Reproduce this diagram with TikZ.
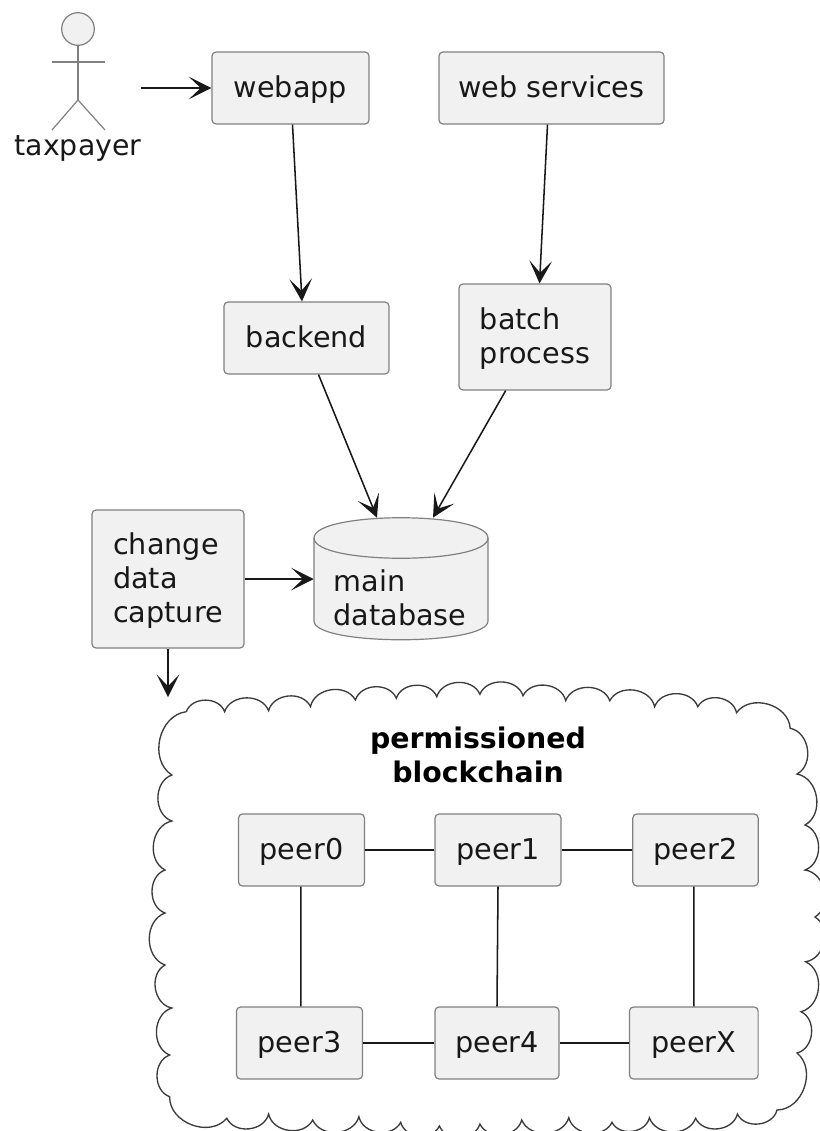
\documentclass[tikz,border=0pt]{standalone}
\usepackage{fontspec}
\setmainfont{DejaVu Sans}
\usetikzlibrary{arrows.meta,shapes.geometric}
\definecolor{boxfill}{HTML}{F1F1F1}
\definecolor{boxline}{HTML}{808080}
\definecolor{ink}{HTML}{181818}
\newcommand{\toppad}{\rule{0pt}{19pt}}
\tikzset{
  x=0.75pt,y=-0.75pt,
  boxnode/.style={draw=boxline,fill=boxfill,line width=0.9pt,rounded corners=3pt,inner sep=0pt,align=left,text=ink,font=\fontsize{21.5}{25.3}\selectfont},
  oneline/.style={boxnode,text height=18.5pt,text depth=4.2pt},
  link/.style={draw=ink,line width=1.15pt},
  arrowlink/.style={link,-{Stealth[length=17pt,width=17pt,inset=9pt]}},
  stick/.style={draw=boxline,line width=0.9pt},
  cloudline/.style={draw=ink!85!white,line width=1pt,fill=white},
  bump/.style={bend left=70,looseness=1.1}
}
\begin{document}
\begin{tikzpicture}
\useasboundingbox (0,0) rectangle (820,1131);
\clip (0,0) rectangle (820,1131);
% actor
\node[circle,draw=boxline,fill=boxfill,line width=0.9pt,minimum size=24.5pt,inner sep=0pt] (head) at (78,29) {};
\coordinate (hip) at (78,100);
\coordinate (armL) at (52,62);
\coordinate (armR) at (105,62);
\coordinate (legL) at (52,130);
\coordinate (legR) at (105,130);
\draw[stick] (head.south) -- (hip);
\draw[stick] (armL) -- (armR);
\draw[stick] (legL) -- (hip) -- (legR);
\node[text=ink,font=\fontsize{21.3}{25}\selectfont,inner sep=0pt] (taxpayer) at (78,148) {taxpayer};
\coordinate (actorout) at (141,88);
% boxes
\node[oneline,minimum width=117.75pt,minimum height=54pt] (webapp) at (290.5,88) {webapp};
\node[oneline,minimum width=168.75pt,minimum height=54pt] (websvc) at (551.5,88) {web services};
\node[oneline,minimum width=123.75pt,minimum height=54pt] (backend) at (306.5,338) {backend};
\node[boxnode,minimum width=114pt,minimum height=79.5pt] (batch) at (535,337) {\toppad batch\\process};
\node[boxnode,minimum width=114pt,minimum height=103.5pt] (cdc) at (168,579) {\toppad change\\data\\capture};
% database
\node[inner sep=0pt,minimum width=130.5pt,minimum height=91.5pt] (db) at (401,579) {};
\coordinate (tl) at (314,538);
\coordinate (tr) at (488,538);
\coordinate (bl) at (314,621);
\coordinate (br) at (488,621);
\draw[boxline,fill=boxfill,line width=0.9pt]
  (tl) -- (bl) .. controls (314,646) and (488,646) .. (br)
  -- (tr) .. controls (488,511) and (314,511) .. (tl) -- cycle;
\draw[boxline,line width=0.9pt] (tl) .. controls (314,565) and (488,565) .. (tr);
\node[text=ink,align=left,inner sep=0pt,font=\fontsize{21.5}{25.3}\selectfont] (dblabel) at (400,598) {main\\database};
% cloud
\draw[cloudline] (186.3,711.7)
 to[bump] (224.6,711.7) to[bump] (268.6,710.7) to[bump] (310.5,706.7)
 to[bump] (355.4,700) to[bump] (396.3,698.3) to[bump] (436.8,696.7)
 to[bump] (479.9,694.3) to[bump] (523,695.7) to[bump] (565.7,700.7)
 to[bump] (609.8,700.7) to[bump] (654.6,706.7) to[bump] (697.8,706.7)
 to[bump] (736.5,712.7) to[bump] (790.2,728.3)
 to[bump] (797,774) to[bump] (805,825) to[bump] (805,870)
 to[bump] (815,917) to[bump] (805.6,961.7) to[bump] (801,1011.7)
 to[bump] (797,1053) to[bump] (777,1110)
 to[bump] (737.4,1114) to[bump] (695.6,1118.3) to[bump] (649.4,1117.7)
 to[bump] (612,1122.3) to[bump] (568.8,1117.7) to[bump] (521.7,1120)
 to[bump] (479.9,1124) to[bump] (439.4,1126) to[bump] (400.7,1122.3)
 to[bump] (358.9,1116.7) to[bump] (312.7,1120) to[bump] (268.6,1114)
 to[bump] (226.8,1118.3) to[bump] (169.6,1096.7)
 to[bump] (169.6,1055) to[bump] (171.8,1008) to[bump] (165,965)
 to[bump] (165,913) to[bump] (165,870) to[bump] (171.8,821)
 to[bump] (171.8,775) to[bump] (186.3,711.7);
\node[font=\bfseries\fontsize{21.3}{25}\selectfont,align=center,text=black,inner sep=0pt] (title) at (478,755) {permissioned\\blockchain};
\coordinate (cloudin) at (168,697);
% peers
\node[oneline,minimum width=94.5pt,minimum height=54pt] (p0) at (301.5,850) {peer0};
\node[oneline,minimum width=94.5pt,minimum height=54pt] (p1) at (498,850) {peer1};
\node[oneline,minimum width=94pt,minimum height=54pt] (p2) at (695.5,850) {peer2};
\node[oneline,minimum width=94.5pt,minimum height=54pt] (p3) at (299.5,1043) {peer3};
\node[oneline,minimum width=93pt,minimum height=54pt] (p4) at (497,1043) {peer4};
\node[oneline,minimum width=96.5pt,minimum height=54pt] (pX) at (693.8,1043) {peerX};
% connectors
\draw[arrowlink] (actorout) -- (webapp.west);
\draw[arrowlink] ([xshift=1.5pt]webapp.south) -- ([xshift=-3.4pt]backend.north);
\draw[arrowlink] ([xshift=-3pt]websvc.south) -- ([xshift=3.4pt]batch.north);
\draw[arrowlink] ([xshift=9pt]backend.south) -- ([xshift=-18pt]db.north);
\draw[arrowlink] ([xshift=-22pt]batch.south) -- ([xshift=24pt]db.north);
\draw[arrowlink] (cdc.east) -- (db.west);
\draw[arrowlink] (cdc.south) -- (cloudin);
\draw[link] (p0) -- (p1);
\draw[link] (p1) -- (p2);
\draw[link] (p3) -- (p4);
\draw[link] (p4) -- (pX);
\draw[link] ([xshift=-0.4pt]p0.south) -- ([xshift=1pt]p3.north);
\draw[link] (p1.south) -- (p4.north);
\draw[link] ([xshift=-1.3pt]p2.south) -- (pX.north);
\end{tikzpicture}
\end{document}
